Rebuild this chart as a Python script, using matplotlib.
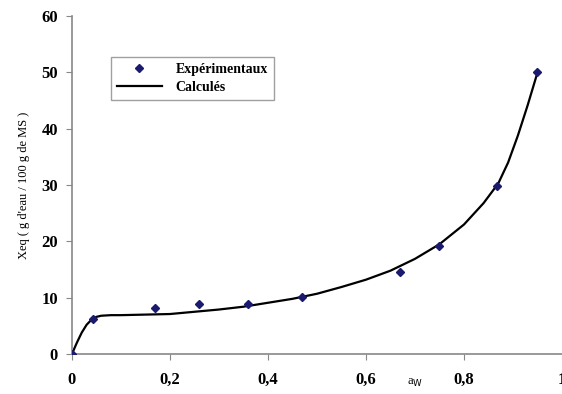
import matplotlib.pyplot as plt
from matplotlib.ticker import FuncFormatter

# Experimental points
aw_exp = [0.0, 0.043, 0.17, 0.26, 0.36, 0.47, 0.67, 0.75, 0.867, 0.95]
xeq_exp = [0.0, 6.3, 8.2, 8.8, 8.8, 10.2, 14.5, 19.2, 29.8, 50.0]

# Calculated curve
aw_calc = [0.0, 0.01, 0.02, 0.03, 0.04, 0.05, 0.06, 0.08, 0.10, 0.15, 0.20, 0.25,
           0.30, 0.35, 0.40, 0.45, 0.50, 0.55, 0.60, 0.65, 0.70, 0.75, 0.80,
           0.84, 0.87, 0.89, 0.91, 0.93, 0.95]
xeq_calc = [0.0, 2.0, 3.8, 5.2, 6.1, 6.6, 6.8, 6.9, 6.9, 7.0, 7.1, 7.5,
            7.9, 8.4, 9.1, 9.8, 10.7, 11.9, 13.2, 14.8, 16.9, 19.5, 23.0,
            26.8, 30.3, 34.0, 38.8, 44.2, 50.0]

xticks = [0, 0.2, 0.4, 0.6, 0.8, 1]
yticks = [0, 10, 20, 30, 40, 50, 60]

plt.rcParams['font.family'] = ['Liberation Serif', 'DejaVu Serif']

fig = plt.figure(figsize=(5.62, 3.94), dpi=100)
ax = fig.add_axes([0.128, 0.1015, 0.872, 0.8575])

ax.plot(aw_calc, xeq_calc, color='black', lw=1.6, label='Calculés', zorder=2)
ax.plot(aw_exp, xeq_exp, ls='none', marker='D', ms=4.5, color='#1a1a6e',
        label='Expérimentaux', zorder=3)

ax.set_xlim(0, 1)
ax.set_ylim(0, 60)
ax.set_xticks(xticks)
ax.set_yticks(yticks)
ax.xaxis.set_major_formatter(FuncFormatter(lambda v, p: ('%g' % v).replace('.', ',')))
for lab in ax.get_xticklabels() + ax.get_yticklabels():
    lab.set_fontweight('bold')
    lab.set_fontsize(12)

for s in ['top', 'right']:
    ax.spines[s].set_visible(False)
for s in ['left', 'bottom']:
    ax.spines[s].set_color('#888888')
    ax.spines[s].set_linewidth(1.2)
ax.tick_params(axis='both', colors='#888888', length=4, labelcolor='black')
ax.tick_params(axis='x', pad=9)
ax.tick_params(axis='y', pad=6)

ax.set_ylabel("Xeq ( g d'eau / 100 g de MS )", fontsize=9, labelpad=8)
ax.text(0.70, -4.0, 'a$_{\\mathrm{W}}$', fontsize=9, ha='center', va='top')

handles, labels = ax.get_legend_handles_labels()
leg = fig.legend(handles[::-1], labels[::-1], loc='upper left',
                 bbox_to_anchor=(0.185, 0.874), frameon=True,
                 fancybox=False, edgecolor='#888888', handlelength=3.2,
                 handletextpad=1.0, borderpad=0.45, labelspacing=0.35,
                 prop={'weight': 'bold', 'size': 10})
leg.get_frame().set_linewidth(1.0)
leg.legend_handles[0].set_markersize(4)

fig.savefig('out.png', dpi=100)
